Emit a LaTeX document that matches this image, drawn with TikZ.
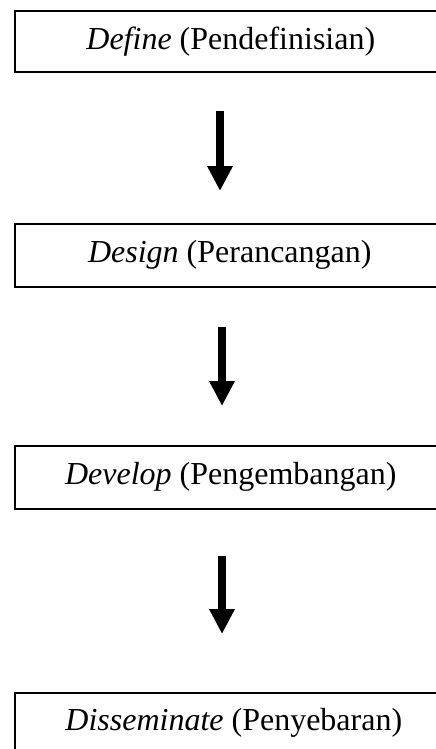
\documentclass[tikz,border=0pt]{standalone}
\usepackage{fontspec}
\setmainfont{Liberation Serif}
\usetikzlibrary{arrows.meta}
\begin{document}
\begin{tikzpicture}[x=1pt,y=1pt,
  stagebox/.style={draw=black, line width=1.6pt, anchor=north west, minimum height=61pt,
    inner sep=0pt, font=\fontsize{32}{38}\selectfont},
  flowarrow/.style={line width=8pt, -{Triangle[width=24pt,length=25pt]}}]
\useasboundingbox (0,0) rectangle (436,-749);
\node[stagebox, minimum width=432pt] (b1) at (14,-10) {\textit{Define} (Pendefinisian)};
\node[stagebox, minimum width=430pt, minimum height=63pt] (b2) at (14,-223) {\textit{Design} (Perancangan)};
\node[stagebox, minimum width=432pt, minimum height=63pt] (b3) at (14,-445) {\textit{Develop} (Pengembangan)};
\node[stagebox, minimum width=438pt] (b4) at (14,-692) {\textit{Disseminate} (Penyebaran)};
\coordinate (ax1) at (220,0);
\coordinate (ax2) at (222,0);
\draw[flowarrow, shorten <=38pt, shorten >=32pt] (b1.south -| ax1) -- (b2.north -| ax1);
\draw[flowarrow, shorten <=39pt, shorten >=39pt] (b2.south -| ax2) -- (b3.north -| ax2);
\draw[flowarrow, shorten <=46pt, shorten >=58pt] (b3.south -| ax2) -- (b4.north -| ax2);
\end{tikzpicture}
\end{document}
